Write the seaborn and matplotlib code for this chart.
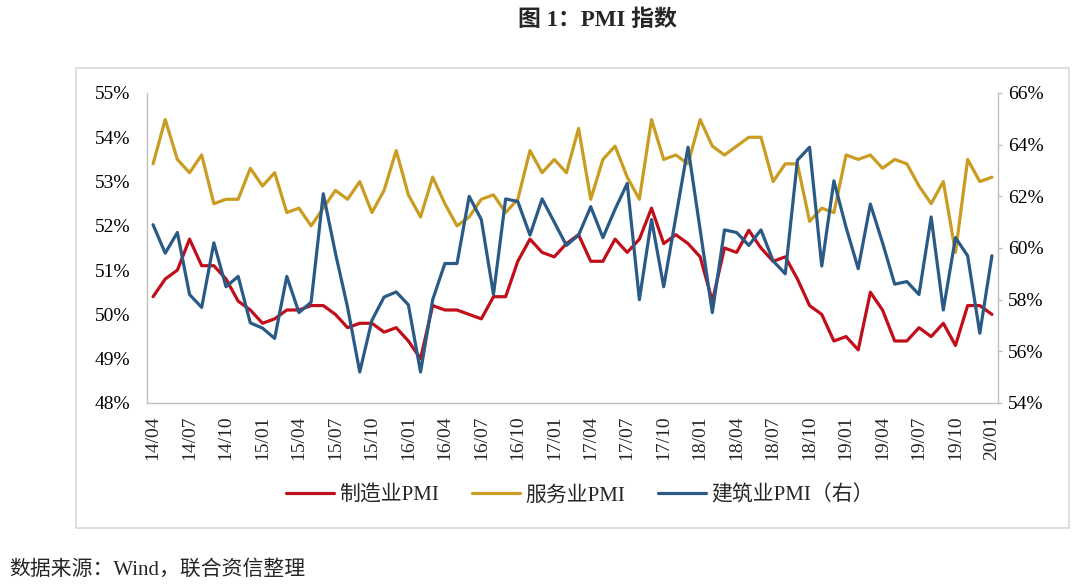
import numpy as np
import pandas as pd
import matplotlib
matplotlib.use('Agg')
import matplotlib.pyplot as plt
import seaborn as sns
from matplotlib.ticker import FuncFormatter, FixedLocator
from matplotlib.patches import Rectangle

# Monthly data, 2014/04 - 2020/01
start_month = '2014-04'
end_month = '2020-01'

# 制造业PMI (left axis, %)
mfg_pmi = [50.4, 50.8, 51.0, 51.7, 51.1, 51.1, 50.8, 50.3, 50.1,
           49.8, 49.9, 50.1, 50.1, 50.2, 50.2, 50.0, 49.7, 49.8, 49.8, 49.6, 49.7,
           49.4, 49.0, 50.2, 50.1, 50.1, 50.0, 49.9, 50.4, 50.4, 51.2, 51.7, 51.4,
           51.3, 51.6, 51.8, 51.2, 51.2, 51.7, 51.4, 51.7, 52.4, 51.6, 51.8, 51.6,
           51.3, 50.3, 51.5, 51.4, 51.9, 51.5, 51.2, 51.3, 50.8, 50.2, 50.0, 49.4,
           49.5, 49.2, 50.5, 50.1, 49.4, 49.4, 49.7, 49.5, 49.8, 49.3, 50.2, 50.2,
           50.0]

# 服务业PMI (left axis, %)
svc_pmi = [53.4, 54.4, 53.5, 53.2, 53.6, 52.5, 52.6, 52.6, 53.3,
           52.9, 53.2, 52.3, 52.4, 52.0, 52.4, 52.8, 52.6, 53.0, 52.3, 52.8, 53.7,
           52.7, 52.2, 53.1, 52.5, 52.0, 52.2, 52.6, 52.7, 52.3, 52.6, 53.7, 53.2,
           53.5, 53.2, 54.2, 52.6, 53.5, 53.8, 53.1, 52.6, 54.4, 53.5, 53.6, 53.4,
           54.4, 53.8, 53.6, 53.8, 54.0, 54.0, 53.0, 53.4, 53.4, 52.1, 52.4, 52.3,
           53.6, 53.5, 53.6, 53.3, 53.5, 53.4, 52.9, 52.5, 53.0, 51.4, 53.5, 53.0,
           53.1]

# 建筑业PMI (right axis, %)
con_pmi = [60.9, 59.8, 60.6, 58.2, 57.7, 60.2, 58.5, 58.9, 57.1,
           56.9, 56.5, 58.9, 57.5, 57.9, 62.1, 59.8, 57.7, 55.2, 57.2, 58.1, 58.3,
           57.8, 55.2, 58.0, 59.4, 59.4, 62.0, 61.1, 58.2, 61.9, 61.8, 60.5, 61.9,
           61.0, 60.1, 60.5, 61.6, 60.4, 61.5, 62.5, 58.0, 61.1, 58.5, 61.2, 63.9,
           60.7, 57.5, 60.7, 60.6, 60.1, 60.7, 59.5, 59.0, 63.4, 63.9, 59.3, 62.6,
           60.8, 59.2, 61.7, 60.2, 58.6, 58.7, 58.2, 61.2, 57.6, 60.4, 59.7, 56.7,
           59.7]

series_names = ['制造业PMI', '服务业PMI', '建筑业PMI（右）']
left_ticks = [48, 49, 50, 51, 52, 53, 54, 55]
right_ticks = [54, 56, 58, 60, 62, 64, 66]

months = pd.period_range(start_month, end_month, freq='M').strftime('%y/%m').tolist()
df = pd.DataFrame({'idx': np.arange(len(months)), 'month': months,
                   'mfg': mfg_pmi, 'svc': svc_pmi, 'con': con_pmi})

colors = {'mfg': '#C00E1A', 'svc': '#C99C22', 'con': '#2A5A86'}

sns.set_theme(style='white')
plt.rcParams['font.family'] = ['Liberation Serif', 'Noto Sans CJK SC']
plt.rcParams['axes.unicode_minus'] = False

fig = plt.figure(figsize=(10.8, 5.86), dpi=100)
ax = fig.add_axes([0.1361, 0.3123, 0.788, 0.529])
ax2 = ax.twinx()

lw = 2.3
sns.lineplot(data=df, x='idx', y='mfg', ax=ax, color=colors['mfg'], linewidth=lw,
             label=series_names[0], legend=False)
sns.lineplot(data=df, x='idx', y='svc', ax=ax, color=colors['svc'], linewidth=lw,
             label=series_names[1], legend=False)
sns.lineplot(data=df, x='idx', y='con', ax=ax2, color=colors['con'], linewidth=lw,
             label=series_names[2], legend=False)
# draw blue above the left-axis lines
ax2.set_zorder(ax.get_zorder() + 1)
ax.patch.set_visible(False)

n = len(months)
ax.set_xlim(-0.5, n - 0.5)
ax.set_ylim(48, 55)
ax2.set_ylim(54, 66)
ax.set_xlabel('')
ax.set_ylabel('')
ax2.set_ylabel('')

pct = FuncFormatter(lambda v, p: f'{v:.0f}%')
ax.yaxis.set_major_locator(FixedLocator(left_ticks))
ax.yaxis.set_major_formatter(pct)
ax2.yaxis.set_major_locator(FixedLocator(right_ticks))
ax2.yaxis.set_major_formatter(pct)

# tick marks at category boundaries, labels on every third month
ax.xaxis.set_major_locator(FixedLocator(np.arange(-0.5, n, 3)))
ax.xaxis.set_major_formatter(plt.NullFormatter())
ax.xaxis.set_minor_locator(FixedLocator(np.arange(0, n, 3)))
ax.set_xticklabels([months[i] for i in range(0, n, 3)], minor=True, rotation=90)

spine_c = '#BFBFBF'
for a in (ax, ax2):
    for s in a.spines.values():
        s.set_visible(False)
ax.spines['left'].set_visible(True)
ax.spines['bottom'].set_visible(True)
ax2.spines['right'].set_visible(True)
for s in (ax.spines['left'], ax.spines['bottom'], ax2.spines['right']):
    s.set_color(spine_c)
    s.set_linewidth(1.0)

ax.tick_params(axis='y', length=0, pad=12, labelsize=14, colors='black')
ax.tick_params(axis='x', which='major', length=4, width=1, color=spine_c, direction='out')
ax.tick_params(axis='x', which='minor', length=0, pad=9, labelsize=14)
ax2.tick_params(axis='y', length=3, width=1, color=spine_c, direction='out', pad=4,
                labelsize=14, labelcolor='black')
ax.grid(False)
ax2.grid(False)

handles = ax.get_lines()[:2] + ax2.get_lines()[:1]
fig.legend(handles, series_names, loc='center', bbox_to_anchor=(0.537, 0.155),
           ncol=3, frameon=False, fontsize=15, handlelength=2.3,
           handletextpad=0.25, columnspacing=1.6)

# outer frame around the chart
fig.patches.append(Rectangle((0.0704, 0.099), 0.9194, 0.785, transform=fig.transFigure,
                             fill=False, edgecolor='#D9D9D9', linewidth=1.2))

fig.text(0.553, 0.966, '图 1：PMI 指数', ha='center', va='center',
         fontsize=16.5, fontweight='bold')
fig.text(0.009, 0.027, '数据来源：Wind，联合资信整理', ha='left', va='center',
         fontsize=15)

fig.savefig('out.png', dpi=100)
